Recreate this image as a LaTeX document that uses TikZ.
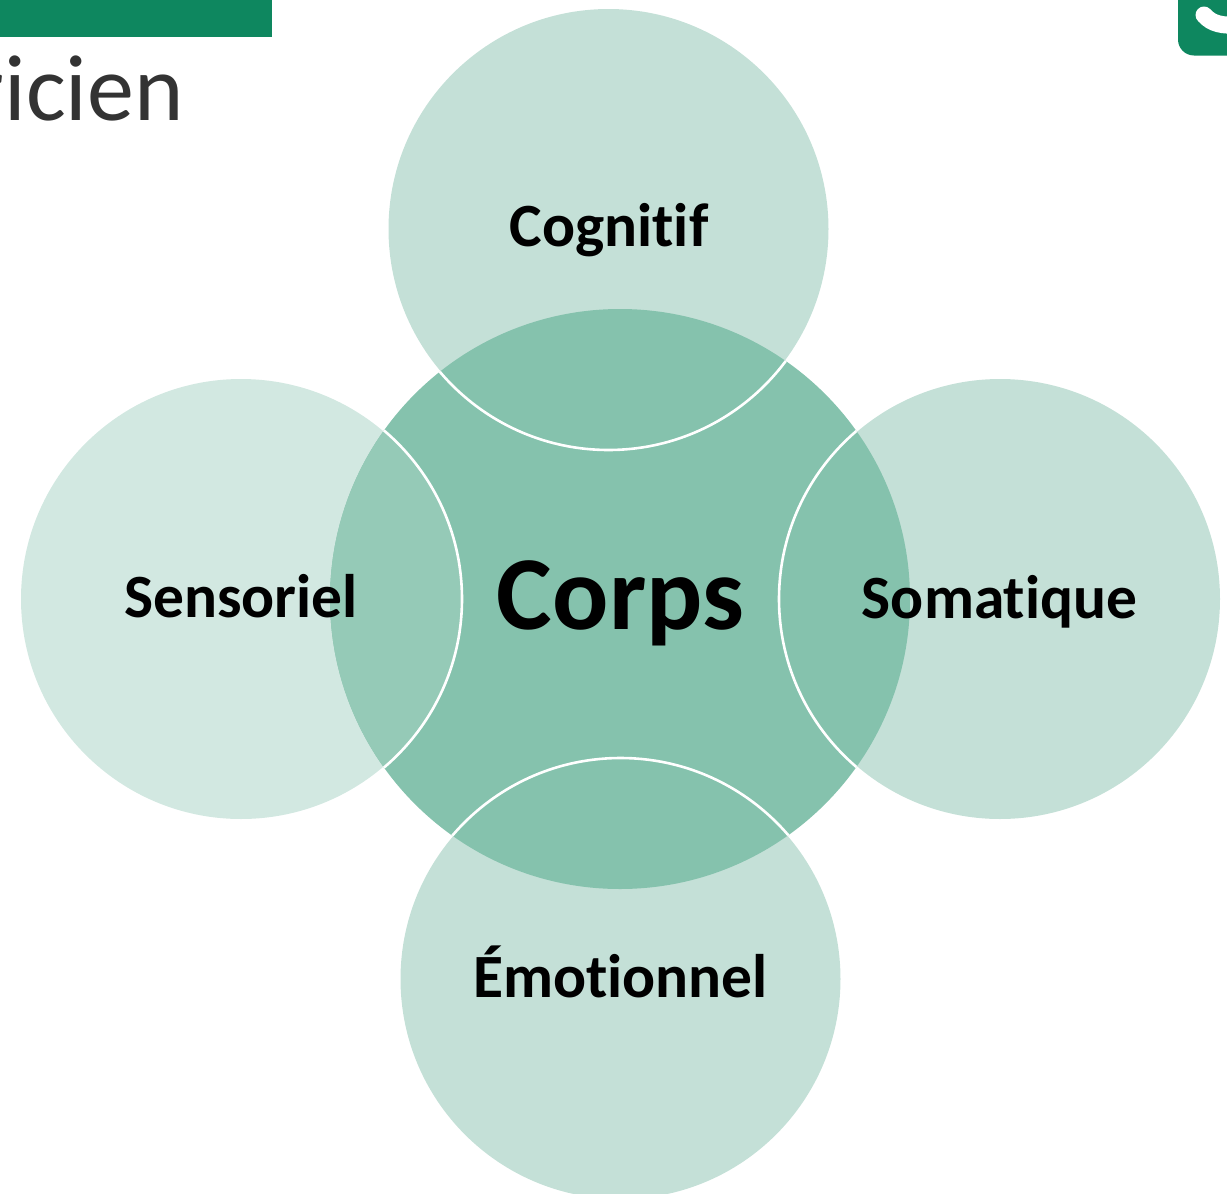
\documentclass[tikz,border=0pt]{standalone}
\usepackage{fontspec}
\setmainfont[Ligatures=NoCommon]{Carlito}
\definecolor{brandgreen}{HTML}{0E875F}
\definecolor{coreg}{HTML}{85C2AD}
\definecolor{outerg}{HTML}{C4E0D7}
\definecolor{paleg}{HTML}{D2E8E1}
\definecolor{mixg}{HTML}{95CAB7}
\definecolor{titlegray}{HTML}{333333}
\tikzset{
  disc/.style={circle,inner sep=0pt,minimum size=440pt,fill=outerg},
  coredisc/.style={circle,inner sep=0pt,minimum size=580pt,fill=coreg},
  lab/.style={font=\fontsize{61.5}{70}\selectfont\bfseries,text=black,inner sep=0pt},
  ring/.style={draw=white,line width=2.6pt},
}
\begin{document}
\begin{tikzpicture}[x=1pt,y=-1pt]
\useasboundingbox (0,0) rectangle (1227,1194);
\clip (0,0) rectangle (1227,1194);
% header pieces
\fill[brandgreen] (-10,-10) rectangle (272,37);
\node[anchor=base west,inner sep=0pt,text=titlegray,font=\fontsize{94}{110}\selectfont] (title) at (-28.5,120.5) {ricien};
\fill[brandgreen,rounded corners=16pt] (1178,-30) rectangle (1260,55.5);
\draw[white,line width=17pt,line cap=round] (1204,15) .. controls (1212,24) and (1222,26) .. (1240,25);
% circles
\node[disc] (top) at (608.5,229) {};
\node[disc,fill=paleg] (left) at (241,599) {};
\node[disc] (right) at (1000,599) {};
\node[disc] (bottom) at (620.5,979) {};
\node[coredisc] (core) at (620,599) {};
\begin{scope}
  \clip (620,599) circle[radius=290pt];
  \fill[mixg] (241,599) circle[radius=221pt];
  \draw[ring] (241,599) circle[radius=221pt];
  \draw[ring] (608.5,229) circle[radius=221pt];
  \draw[ring] (1000,599) circle[radius=221pt];
  \draw[ring] (620.5,979) circle[radius=221pt];
\end{scope}
% labels
\node[lab] (lc) at (609,230.5) {Cognitif};
\node[lab] (ls) at (241,596.5) {Sensoriel};
\node[lab] (lm) at (999.5,601.5) {Somatique};
\node[lab] (le) at (620.5,971.5) {Émotionnel};
\node[lab,font=\fontsize{105}{120}\selectfont\bfseries] (lcore) at (620.5,603.5) {Corps};
\end{tikzpicture}
\end{document}
